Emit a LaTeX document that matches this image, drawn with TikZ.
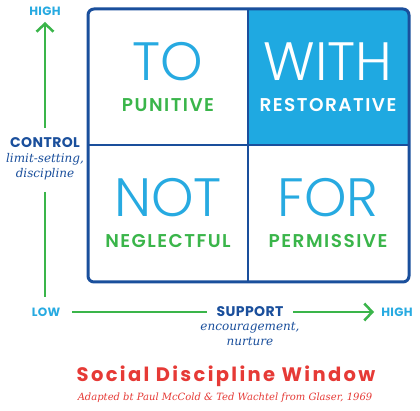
\documentclass[tikz,border=0pt]{standalone}
\usepackage{fontspec}
\usetikzlibrary{arrows.meta}
\newfontfamily\popl{Poppins Light}
\newfontfamily\popb{Poppins SemiBold}[LetterSpace=8]
\newfontfamily\popbb{Poppins Bold}[LetterSpace=3]
\newfontfamily\popt{Poppins Bold}[LetterSpace=12]
\newfontfamily\serit{DejaVu Serif Italic}
\definecolor{lblue}{HTML}{27AAE1}
\definecolor{fblue}{HTML}{1FA9E1}
\definecolor{dblue}{HTML}{1A4F9C}
\definecolor{grn}{HTML}{3AB54A}
\definecolor{rd}{HTML}{E63A36}
\tikzset{
  big/.style={font=\popl\fontsize{54}{54}\selectfont, text=lblue, inner sep=0pt},
  sub/.style={font=\popb\fontsize{18.5}{18.5}\selectfont, text=grn, inner sep=0pt},
  axlbl/.style={font=\popbb\fontsize{12}{12}\selectfont, text=lblue, inner sep=0pt},
  axis/.style={draw=grn, line width=2.5pt},
  arr/.style={axis, -{Straight Barb[length=8pt,width=17pt,line width=2.5pt]}},
  captxt/.style={font=\serit\fontsize{12}{15}\selectfont, text=dblue, align=center, inner sep=0pt},
}
\begin{document}
\begin{tikzpicture}[x=1pt,y=-1pt]
\useasboundingbox (0,0) rectangle (420,411);
\fill[white] (0,0) rectangle (420,411);
% filled cell
\begin{scope}
\clip[rounded corners=6pt] (88,9) rectangle (409,282);
\fill[fblue] (248,9) rectangle (409,145);
\end{scope}
\draw[dblue, line width=2pt] (248,9) -- (248,282);
\draw[dblue, line width=2pt] (88,145) -- (409,145);
\draw[dblue, line width=3pt, rounded corners=6pt] (88,9) rectangle (409,282);
% cell texts
\node[big] (to) at (168,62) {TO};
\node[sub] (pun) at (168,105) {PUNITIVE};
\node[big, text=white] (with) at (328,62) {WITH};
\node[sub, text=white] (res) at (328,105) {RESTORATIVE};
\node[big] (not) at (168,198) {NOT};
\node[sub] (neg) at (168,241) {NEGLECTFUL};
\node[big] (for) at (328,198) {FOR};
\node[sub] (per) at (328,241) {PERMISSIVE};
% vertical axis
\node[axlbl] (hiy) at (45,11) {HIGH};
\node[captxt, anchor=north] (ctrl) at (45,137) {{\popbb\fontsize{14}{15}\selectfont CONTROL}\\limit-setting,\\discipline};
\node[axlbl] (lowx) at (46,312) {LOW};
\coordinate (ytip) at (45,22);
\coordinate (ytop) at (45,128);
\coordinate (ybot) at (45,192);
\coordinate (yend) at (45,297);
\draw[arr] (ytop) -- (ytip);
\draw[axis] (ybot) -- (yend);
% horizontal axis
\node[font=\popbb\fontsize{14}{14}\selectfont, text=dblue, inner sep=0pt] (sup) at (250,312) {SUPPORT};
\node[captxt, anchor=north] (supcap) at (250,322) {encouragement,\\nurture};
\node[axlbl] (hix) at (397,312) {HIGH};
\coordinate (xstart) at (72,312);
\coordinate (xa) at (207,312);
\coordinate (xb) at (293,312);
\coordinate (xtip) at (374,312);
\draw[axis] (xstart) -- (xa);
\draw[arr] (xb) -- (xtip);
% title
\node[font=\popt\fontsize{19.5}{19.5}\selectfont, text=rd, inner sep=0pt] (title) at (226,376) {Social Discipline Window};
\node[font=\serit\fontsize{10}{12}\selectfont, text=rd, inner sep=0pt] (subt) at (225,398) {Adapted bt Paul McCold \& Ted Wachtel from Glaser, 1969};
\end{tikzpicture}
\end{document}
